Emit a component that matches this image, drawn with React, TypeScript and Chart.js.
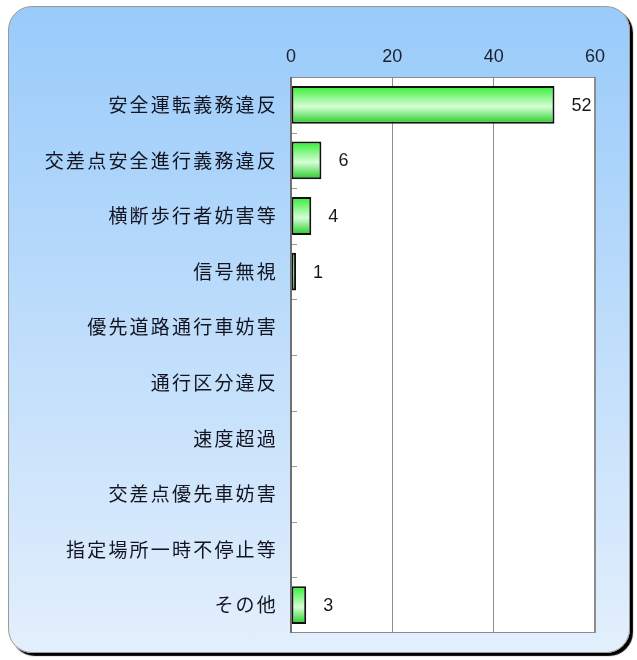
import React, { useEffect, useRef } from "react";
import { Chart, registerables } from "chart.js";

Chart.register(...registerables);

const categories = [
  "安全運転義務違反",
  "交差点安全進行義務違反",
  "横断歩行者妨害等",
  "信号無視",
  "優先道路通行車妨害",
  "通行区分違反",
  "速度超過",
  "交差点優先車妨害",
  "指定場所一時不停止等",
  "その他",
];
const counts = [52, 6, 4, 1, 0, 0, 0, 0, 0, 3];
const xTicks = [0, 20, 40, 60];

const W = 637;
const H = 660;

const plotPlugin = {
  id: "plotDecor",
  beforeDraw(chart: any) {
    const { ctx, chartArea } = chart;
    ctx.save();
    ctx.fillStyle = "#ffffff";
    ctx.fillRect(chartArea.left, chartArea.top, chartArea.right - chartArea.left, chartArea.bottom - chartArea.top);
    ctx.restore();
    const y = chart.scales.y;
    if (y && !y.__wrapped) {
      const orig = y.drawLabels.bind(y);
      y.drawLabels = (ca: any) => {
        ctx.save();
        (ctx as any).letterSpacing = "2.2px";
        orig(ca);
        ctx.restore();
      };
      y.__wrapped = true;
    }
  },
  afterDraw(chart: any) {
    const { ctx, chartArea } = chart;
    const y = chart.scales.y;
    ctx.save();
    ctx.strokeStyle = "#8c8c8c";
    ctx.lineWidth = 1;
    ctx.strokeRect(chartArea.left + 0.5, chartArea.top + 0.5, chartArea.right - chartArea.left - 1, chartArea.bottom - chartArea.top - 1);
    ctx.strokeStyle = "#9a9a9a";
    ctx.beginPath();
    for (let i = 1; i < categories.length; i++) {
      const py = Math.round((y.getPixelForValue(i - 1) + y.getPixelForValue(i)) / 2) + 0.5;
      ctx.moveTo(chartArea.left + 1, py);
      ctx.lineTo(chartArea.left + 6, py);
    }
    ctx.stroke();
    ctx.strokeStyle = "#707070";
    ctx.lineWidth = 2;
    ctx.beginPath();
    ctx.moveTo(chartArea.left, chartArea.top);
    ctx.lineTo(chartArea.left, chartArea.bottom);
    ctx.stroke();
    ctx.restore();
  },
  afterDatasetsDraw(chart: any) {
    const { ctx } = chart;
    const meta = chart.getDatasetMeta(0);
    ctx.save();
    ctx.fillStyle = "#1a1a1a";
    ctx.font = "18px 'Liberation Sans', Arial, sans-serif";
    ctx.textAlign = "left";
    ctx.textBaseline = "middle";
    meta.data.forEach((el: any, i: number) => {
      const v = counts[i];
      if (!v) return;
      ctx.fillText(String(v), el.x + 17, el.y + 1);
    });
    ctx.restore();
  },
};

export default function App() {
  const ref = useRef<HTMLCanvasElement | null>(null);

  useEffect(() => {
    if (!ref.current) return;
    const chart = new Chart(ref.current, {
      type: "bar",
      data: {
        labels: categories,
        datasets: [
          {
            data: counts,
            backgroundColor: (c: any) => {
              const ch = c.chart;
              const ys = ch.scales && ch.scales.y;
              if (!ys || c.dataIndex === undefined) return "#66ee66";
              const yc = ys.getPixelForValue(c.dataIndex);
              const half = (ys.height / categories.length) * 0.68 / 2;
              if (!isFinite(yc) || !isFinite(half) || half <= 0) return "#66ee66";
              const g = ch.ctx.createLinearGradient(0, yc - half, 0, yc + half);
              g.addColorStop(0, "#33ee33");
              g.addColorStop(0.55, "#d6ffd6");
              g.addColorStop(1, "#22cc22");
              return g;
            },
            borderColor: "#111111",
            borderWidth: 2,
            borderSkipped: false,
            barPercentage: 0.68,
            categoryPercentage: 1,
          },
        ],
      },
      options: {
        indexAxis: "y",
        responsive: false,
        animation: false,
        devicePixelRatio: 1,
        layout: { padding: { top: 0, left: 0, right: 42, bottom: 27 } },
        plugins: {
          legend: { display: false },
          tooltip: { enabled: false },
          title: { display: false },
        },
        scales: {
          x: {
            position: "top",
            min: 0,
            max: 60,
            afterBuildTicks: (s: any) => {
              s.ticks = xTicks.map((v) => ({ value: v }));
            },
            afterFit: (s: any) => {
              s.height = 77;
            },
            grid: { color: "#8c8c8c", lineWidth: 1, drawTicks: false },
            border: { display: false },
            ticks: {
              padding: 9,
              color: "#1a2030",
              font: { family: "'Liberation Sans', Arial, sans-serif", size: 18 },
            },
          },
          y: {
            afterFit: (s: any) => {
              s.width = 291;
            },
            grid: { display: false, drawTicks: false },
            border: { display: false },
            ticks: {
              padding: 13,
              color: "#141420",
              font: { family: "'Noto Sans CJK JP', sans-serif", size: 19 },
            },
          },
        },
      },
      plugins: [plotPlugin],
    });
    return () => chart.destroy();
  }, []);

  return (
    <div style={{ position: "fixed", left: 0, top: 0, width: W, height: H, background: "#ffffff" }}>
      <div
        style={{
          position: "absolute",
          left: 8,
          top: 6,
          width: 620,
          height: 645,
          borderRadius: 24,
          border: "1px solid #9a9a9a",
          boxShadow: "3px 3px 1px #000000",
          background: "linear-gradient(to bottom, #99cbfa, #e3effc)",
        }}
      />
      <canvas ref={ref} width={W} height={H} style={{ position: "absolute", left: 0, top: 0 }} />
    </div>
  );
}
